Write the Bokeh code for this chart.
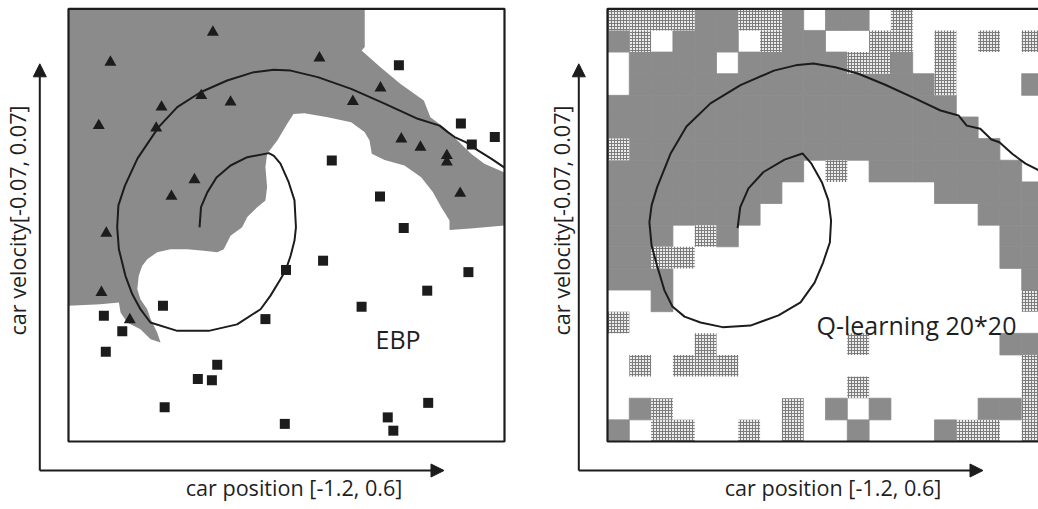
import math
from bokeh.plotting import figure
from bokeh.models import Range1d, Arrow, NormalHead, Label
from bokeh.layouts import row
from bokeh.embed import file_html
from bokeh.resources import INLINE

# ---------------- data ----------------
POS_RANGE = [-1.2, 0.6]      # car position domain
VEL_RANGE = [-0.07, 0.07]    # car velocity domain
x_title = "car position [-1.2, 0.6]"
y_title = "car velocity[-0.07, 0.07]"

# EBP prototypes: action class A (triangles)
tri_pos = [-0.604, -1.027, -0.164, 0.088, -0.026, -0.816, -0.652, -0.531, -1.075, -0.838,
           0.174, 0.253, 0.362, 0.362, -0.680, -0.775, 0.417, -1.044, -1.064, -0.947]
tri_vel = [0.0624, 0.0527, 0.0541, 0.0444, 0.0400, 0.0382, 0.0419, 0.0398, 0.0322, 0.0314,
           0.0279, 0.0252, 0.0225, 0.0204, 0.0147, 0.0093, 0.0103, -0.0026, -0.0218, -0.0306]

# EBP prototypes: action class B (squares)
sq_pos = [0.164, 0.420, 0.560, 0.465, -0.113, 0.086, 0.184, -0.149, -0.302, 0.451,
          0.281, 0.010, -0.810, -0.387, -1.054, -0.978, -1.046, -0.586, -0.666, -0.608,
          -0.803, 0.285, 0.118, -0.307, 0.141]
sq_vel = [0.0517, 0.0329, 0.0285, 0.0261, 0.0209, 0.0093, -0.0009, -0.0115, -0.0145, -0.0152,
          -0.0212, -0.0264, -0.0261, -0.0304, -0.0293, -0.0343, -0.0410, -0.0452, -0.0498, -0.0502,
          -0.0589, -0.0575, -0.0622, -0.0643, -0.0665]

# EBP decision region of class A
region_pos = [-1.2, 0.023, 0.023, 0.010, 0.088, 0.171, 0.267, 0.294, 0.349, 0.406,
              0.462, 0.517, 0.6, 0.6, 0.460, 0.373, 0.373, 0.339, 0.304, 0.256,
              0.187, 0.105, 0.052, 0.043, 0.022, -0.033, -0.130, -0.226, -0.271, -0.297,
              -0.338, -0.380, -0.387, -0.380, -0.387, -0.421, -0.462, -0.483, -0.531, -0.559,
              -0.586, -0.641, -0.710, -0.779, -0.834, -0.875, -0.896, -0.910, -0.916, -0.903,
              -0.875, -0.861, -0.834, -0.820, -0.861, -0.903, -0.958, -0.985, -0.992, -1.068,
              -1.2]
region_vel = [0.07, 0.07, 0.0576, 0.0565, 0.0511, 0.0457, 0.0403, 0.0349, 0.0317, 0.0274,
              0.0231, 0.0199, 0.0170, -0.0001, -0.0011, -0.0016, 0.0015, 0.0058, 0.0107, 0.0155,
              0.0193, 0.0211, 0.0231, 0.0274, 0.0301, 0.0333, 0.0349, 0.0362, 0.0360, 0.0328,
              0.0274, 0.0231, 0.0188, 0.0123, 0.0080, 0.0058, 0.0026, -0.0007, -0.0034, -0.0078,
              -0.0088, -0.0083, -0.0078, -0.0078, -0.0088, -0.0110, -0.0132, -0.0164, -0.0207, -0.0240,
              -0.0272, -0.0304, -0.0347, -0.0380, -0.0369, -0.0337, -0.0315, -0.0283, -0.0250, -0.0256,
              -0.0261]

# trajectory under the EBP policy
ebp_traj_pos = [-0.659, -0.653, -0.627, -0.589, -0.531, -0.462, -0.373, -0.352, -0.325, -0.291,
                -0.267, -0.261, -0.267, -0.283, -0.303, -0.325, -0.366, -0.407, -0.504, -0.621,
                -0.751, -0.862, -0.903, -0.937, -0.965, -0.992, -0.999, -0.994, -0.967, -0.915,
                -0.828, -0.751, -0.655, -0.545, -0.435, -0.352, -0.283, -0.171, -0.033, 0.105,
                0.242, 0.332, 0.366, 0.394, 0.442, 0.490, 0.545, 0.600]
ebp_traj_vel = [-0.0007, 0.0058, 0.0106, 0.0154, 0.0193, 0.0220, 0.0233, 0.0224, 0.0199, 0.0139,
                0.0080, -0.0007, -0.0050, -0.0099, -0.0145, -0.0175, -0.0228, -0.0272, -0.0321, -0.0342,
                -0.0342, -0.0315, -0.0272, -0.0223, -0.0164, -0.0078, -0.0007, 0.0064, 0.0128, 0.0216,
                0.0317, 0.0382, 0.0430, 0.0468, 0.0495, 0.0503, 0.0500, 0.0479, 0.0441, 0.0393,
                0.0344, 0.0322, 0.0301, 0.0285, 0.0268, 0.0242, 0.0215, 0.0186]

# trajectory under the Q-learning policy
q_traj_pos = [-0.663, -0.652, -0.618, -0.556, -0.469, -0.395, -0.358, -0.315, -0.288, -0.277,
              -0.282, -0.310, -0.345, -0.403, -0.494, -0.610, -0.725, -0.816, -0.882, -0.932,
              -0.965, -0.995, -1.018, -1.027, -1.018, -0.995, -0.940, -0.874, -0.775, -0.651,
              -0.513, -0.424, -0.350, -0.259, -0.164, -0.056, 0.067, 0.175, 0.249, 0.283,
              0.339, 0.385, 0.418, 0.472, 0.526, 0.579, 0.600]
q_traj_vel = [-0.0010, 0.0058, 0.0119, 0.0172, 0.0212, 0.0232, 0.0199, 0.0139, 0.0080, 0.0015,
              -0.0056, -0.0121, -0.0186, -0.0250, -0.0292, -0.0325, -0.0330, -0.0315, -0.0296, -0.0263,
              -0.0211, -0.0132, -0.0066, 0.0009, 0.0064, 0.0123, 0.0231, 0.0319, 0.0394, 0.0453,
              0.0500, 0.0517, 0.0523, 0.0511, 0.0490, 0.0455, 0.0411, 0.0371, 0.0355, 0.0322,
              0.0312, 0.0277, 0.0268, 0.0230, 0.0199, 0.0178, 0.0170]

# Q-learning 20x20 greedy actions, rows from high velocity (top) to low
# 0 = white, 1 = dark, 2 = light
q_actions = [
    [2, 2, 2, 2, 1, 1, 2, 2, 1, 0, 1, 1, 0, 2, 0, 0, 0, 0, 0, 0],
    [1, 2, 0, 1, 1, 1, 0, 2, 1, 1, 0, 0, 2, 2, 0, 2, 0, 2, 0, 2],
    [0, 1, 1, 1, 1, 0, 1, 1, 1, 1, 1, 2, 2, 1, 0, 2, 0, 0, 0, 0],
    [0, 1, 1, 1, 1, 1, 1, 1, 1, 1, 1, 1, 1, 1, 1, 2, 0, 0, 0, 1],
    [1, 1, 1, 1, 1, 1, 1, 1, 1, 1, 1, 1, 1, 1, 1, 1, 0, 0, 0, 0],
    [1, 1, 1, 1, 1, 1, 1, 1, 1, 1, 1, 1, 1, 1, 1, 1, 1, 0, 0, 0],
    [2, 1, 1, 1, 1, 1, 1, 1, 1, 1, 1, 1, 1, 1, 1, 1, 1, 1, 0, 0],
    [1, 1, 1, 1, 1, 1, 1, 1, 1, 0, 2, 0, 1, 1, 1, 1, 1, 1, 1, 0],
    [1, 1, 1, 1, 1, 1, 1, 1, 0, 0, 0, 0, 0, 0, 0, 1, 1, 1, 1, 1],
    [1, 1, 1, 1, 1, 1, 1, 0, 0, 0, 0, 0, 0, 0, 0, 0, 0, 1, 1, 1],
    [1, 1, 1, 0, 2, 1, 0, 0, 0, 0, 0, 0, 0, 0, 0, 0, 0, 0, 1, 1],
    [1, 1, 2, 2, 0, 0, 0, 0, 0, 0, 0, 0, 0, 0, 0, 0, 0, 0, 1, 1],
    [1, 1, 1, 0, 0, 0, 0, 0, 0, 0, 0, 0, 0, 0, 0, 0, 0, 0, 0, 1],
    [0, 0, 1, 0, 0, 0, 0, 0, 0, 0, 0, 0, 0, 0, 0, 0, 0, 0, 0, 2],
    [2, 0, 0, 0, 0, 0, 0, 0, 0, 0, 0, 0, 0, 0, 0, 0, 0, 0, 0, 0],
    [0, 0, 0, 0, 2, 0, 0, 0, 0, 0, 0, 2, 0, 0, 0, 0, 0, 0, 1, 1],
    [0, 2, 0, 2, 2, 2, 0, 0, 0, 0, 0, 0, 0, 0, 0, 0, 0, 0, 0, 2],
    [0, 0, 0, 0, 0, 0, 0, 0, 0, 0, 0, 2, 0, 0, 0, 0, 0, 0, 0, 2],
    [0, 1, 2, 0, 0, 0, 0, 0, 2, 0, 1, 0, 1, 0, 0, 0, 0, 1, 1, 2],
    [1, 0, 2, 2, 0, 0, 2, 0, 2, 0, 0, 1, 0, 0, 0, 1, 2, 2, 0, 2],
]

# ---------------- layout / style ----------------
W, H = 519, 509
BOX_W, BOX_H, BOX_TOP = 436.0, 432.7, 8.3
KX = BOX_W / (POS_RANGE[1] - POS_RANGE[0])
KY = BOX_H / (VEL_RANGE[1] - VEL_RANGE[0])
INK = "#1c1c1c"
TXT = "#1f1f1f"
DARK = "#8b8b8b"
FONT = "Open Sans"
AXIS_FS = "21.6px"


def at_x(dpx):
    return POS_RANGE[0] + dpx / KX


def at_y(dpx):
    return VEL_RANGE[1] - (dpx - BOX_TOP) / KY


def make_panel(box_left):
    p = figure(width=W, height=H,
               x_range=Range1d(at_x(-box_left), at_x(W - box_left)),
               y_range=Range1d(at_y(H), at_y(0)),
               toolbar_location=None, output_backend="svg", min_border=0,
               x_axis_type=None, y_axis_type=None,
               outline_line_color=None,
               background_fill_color="white", border_fill_color="white")
    return p


def decorate(p, ylab_dx):
    # frame box
    p.quad(left=[POS_RANGE[0]], right=[POS_RANGE[1]], bottom=[VEL_RANGE[0]], top=[VEL_RANGE[1]],
           fill_color=None, line_color=INK, line_width=2.2)
    cx = at_x(-28.7)
    cy = at_y(470)
    p.add_layout(Arrow(end=NormalHead(size=13, fill_color=INK, line_color=INK, line_width=1),
                       x_start=cx, y_start=cy, x_end=cx, y_end=at_y(63.3),
                       line_color=INK, line_width=2))
    p.add_layout(Arrow(end=NormalHead(size=13, fill_color=INK, line_color=INK, line_width=1),
                       x_start=cx, y_start=cy, x_end=at_x(375.5), y_end=cy,
                       line_color=INK, line_width=2))
    p.add_layout(Label(x=at_x(225.5), y=at_y(487), text=x_title, text_font=FONT,
                       text_font_size=AXIS_FS, text_color=TXT,
                       text_align="center", text_baseline="middle"))
    p.add_layout(Label(x=at_x(ylab_dx), y=at_y(220), text=y_title, text_font=FONT,
                       text_font_size=AXIS_FS, text_color=TXT, angle=math.pi / 2,
                       text_align="center", text_baseline="middle"))


# ---------------- left panel: EBP ----------------
p1 = make_panel(68)
p1.patch(region_pos, region_vel, fill_color=DARK, line_color=None)
p1.line(ebp_traj_pos, ebp_traj_vel, line_color=INK, line_width=2)
p1.scatter(tri_pos, tri_vel, marker="triangle", size=12, fill_color=INK, line_color=None)
p1.scatter(sq_pos, sq_vel, marker="square", size=10, fill_color=INK, line_color=None)
decorate(p1, -51.5)
p1.add_layout(Label(x=at_x(375 - 68), y=at_y(338), text="EBP", text_font=FONT,
                    text_font_size="25px", text_color=TXT,
                    text_align="left", text_baseline="alphabetic"))

# ---------------- right panel: Q-learning ----------------
p2 = make_panel(88)
n_rows = len(q_actions)
n_cols = len(q_actions[0])
cw = (POS_RANGE[1] - POS_RANGE[0]) / n_cols
ch = (VEL_RANGE[1] - VEL_RANGE[0]) / n_rows
cells = {1: ([], [], [], []), 2: ([], [], [], [])}
for r, rowv in enumerate(q_actions):
    for c, v in enumerate(rowv):
        if v in cells:
            L, R, B, T = cells[v]
            L.append(POS_RANGE[0] + c * cw)
            R.append(POS_RANGE[0] + (c + 1) * cw)
            T.append(VEL_RANGE[1] - r * ch)
            B.append(VEL_RANGE[1] - (r + 1) * ch)
L, R, B, T = cells[1]
p2.quad(left=L, right=R, bottom=B, top=T, fill_color=DARK, line_color=DARK, line_width=0.8)
L, R, B, T = cells[2]
p2.quad(left=L, right=R, bottom=B, top=T, fill_color="#ececec", line_color=None,
        hatch_pattern="+", hatch_scale=3, hatch_color="#7c7c7c", hatch_weight=1)
p2.line(q_traj_pos, q_traj_vel, line_color=INK, line_width=2)
decorate(p2, -46.5)
p2.add_layout(Label(x=at_x(816 - 607), y=at_y(324), text="Q-learning 20*20", text_font=FONT,
                    text_font_size="25px", text_color=TXT,
                    text_align="left", text_baseline="alphabetic"))

layout = row(p1, p2)
open("out.html", "w").write(file_html(layout, INLINE))
